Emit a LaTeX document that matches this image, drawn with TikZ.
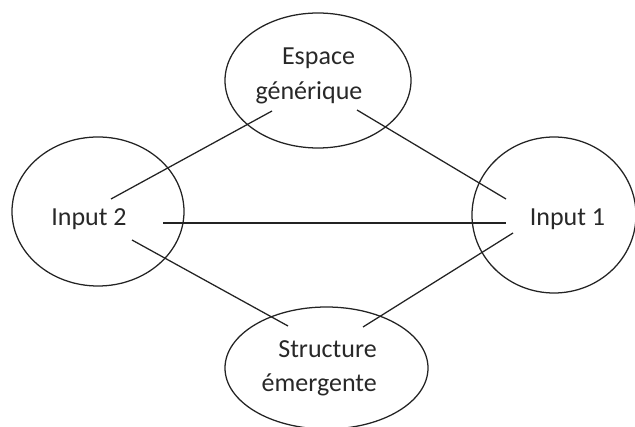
\documentclass[tikz,border=0pt]{standalone}
\usepackage{fontspec}
\setmainfont{Carlito}
\usetikzlibrary{shapes.geometric}
\definecolor{ink}{RGB}{35,35,35}
\definecolor{txt}{RGB}{40,40,40}
\tikzset{
  bubble/.style={draw=ink, line width=0.95pt, ellipse, inner sep=0pt, outer sep=0pt},
  lbl/.style={text=txt, inner sep=0pt, font=\fontsize{19.5}{26}\selectfont},
  link/.style={draw=ink, line width=0.95pt}
}
\begin{document}
\begin{tikzpicture}[x=0.75pt,y=-0.75pt]
\useasboundingbox (0,0) rectangle (635,427);
% ellipses
\node[bubble, minimum width=186*0.75pt, minimum height=135*0.75pt] (gen) at (318,80.5) {};
\node[bubble, minimum width=172*0.75pt, minimum height=149*0.75pt] (in2) at (98,211.5) {};
\node[bubble, minimum width=164*0.75pt, minimum height=156*0.75pt] (in1) at (554,215) {};
\node[bubble, minimum width=203*0.75pt, minimum height=122*0.75pt] (emg) at (326.5,368) {};
% labels
\node[lbl, anchor=base] (genA) at (318.5,65) {Espace};
\node[lbl, anchor=base] (genB) at (309,100) {générique};
\node[lbl, anchor=base] (in2t) at (89,226) {Input 2};
\node[lbl, anchor=base] (in1t) at (567.5,226) {Input 1};
\node[lbl, anchor=base east] (emgA) at (377,358) {Structure};
\node[lbl, anchor=base east] (emgB) at (377,392) {émergente};
% connector ends
\coordinate (g1) at (272,111);
\coordinate (g2) at (357,110);
\coordinate (a1) at (111,199);
\coordinate (a2) at (163,223);
\coordinate (a3) at (132,240);
\coordinate (b1) at (506,199);
\coordinate (b2) at (506,223);
\coordinate (b3) at (513,233);
\coordinate (e1) at (288,326);
\coordinate (e2) at (363,327);
% connectors
\draw[link] (g1) -- (a1);
\draw[link] (g2) -- (b1);
\draw[link] (a2) -- (b2);
\draw[link] (a3) -- (e1);
\draw[link] (b3) -- (e2);
\end{tikzpicture}
\end{document}
